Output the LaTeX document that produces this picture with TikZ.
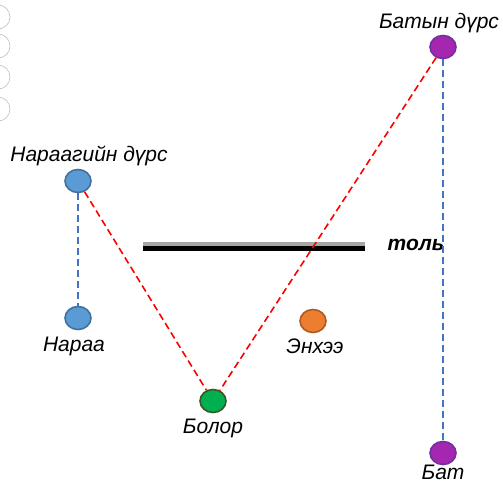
\documentclass[tikz,border=0pt]{standalone}
\usepackage{fontspec}
\setmainfont{Liberation Sans}
\usetikzlibrary{positioning,shapes.geometric}
\definecolor{pointBlue}{HTML}{5B9BD5}
\definecolor{pointBlueEdge}{HTML}{41719C}
\definecolor{pointGreen}{HTML}{00B050}
\definecolor{pointGreenEdge}{HTML}{385723}
\definecolor{pointOrange}{HTML}{ED7D31}
\definecolor{pointOrangeEdge}{HTML}{AE5A21}
\definecolor{pointPurple}{HTML}{A526AF}
\definecolor{pointPurpleEdge}{HTML}{7030A0}
\definecolor{rayBlue}{HTML}{4472C4}
\definecolor{rayRed}{HTML}{FF0000}
\definecolor{mirrorGray}{HTML}{A6A6A6}

\begin{document}
\begin{tikzpicture}[x=1pt, y=-1pt,
    dot/.style={ellipse, draw, line width=1.6pt, minimum width=26pt, minimum height=23pt, inner sep=0pt},
    ptlabel/.style={font=\fontsize{21}{24}\selectfont\itshape, inner sep=0pt},
    rayline/.style={line width=1.6pt, dash pattern=on 7pt off 4pt},
    ghost/.style={draw=black!25, line width=0.6pt}]
    \useasboundingbox (0,0) rectangle (503,483);
    \clip (0,0) rectangle (503,483);

    % faint circles at the left edge
    \foreach \y in {17,46,77,109}
        \draw[ghost] (-2,\y) circle (12);

    % Mirror
    \draw[mirrorGray, line width=4pt] (143,244) -- (365,244);
    \draw[black, line width=5pt] (143,248.5) -- (365,248.5);
    \node[ptlabel, font=\fontsize{21}{24}\selectfont\bfseries\itshape] (mirror) at (416,245) {толь};

    % Points
    \node[dot, fill=pointBlue, draw=pointBlueEdge] (naraaImg) at (78,181) {};
    \node[dot, fill=pointBlue, draw=pointBlueEdge] (naraa) at (78,318) {};
    \node[dot, fill=pointGreen, draw=pointGreenEdge] (bolor) at (213,401) {};
    \node[dot, fill=pointOrange, draw=pointOrangeEdge] (enkhee) at (313,321) {};
    \node[dot, fill=pointPurple, draw=pointPurpleEdge] (batImg) at (443,47) {};
    \node[dot, fill=pointPurple, draw=pointPurpleEdge] (bat) at (443,453) {};

    % Labels
    \node[ptlabel, above=3pt of naraaImg, xshift=11pt] (naraaImgName) {Нараагийн дүрс};
    \node[ptlabel, below=7pt of naraa, xshift=-4pt] (naraaName) {Нараа};
    \node[ptlabel, below=6pt of bolor] (bolorName) {Болор};
    \node[ptlabel, below=5pt of enkhee, xshift=2pt] (enkheeName) {Энхээ};
    \node[ptlabel, above=2pt of batImg, xshift=-4pt] (batImgName) {Батын дүрс};
    \node[ptlabel, below=0pt of bat] (batName) {Бат};

    % Rays
    \draw[rayline, rayBlue] (naraaImg) -- (naraa);
    \draw[rayline, rayBlue] (batImg) -- (bat);
    \draw[rayline, rayRed] (naraaImg) -- (bolor);
    \draw[rayline, rayRed] (batImg) -- (bolor);
\end{tikzpicture}
\end{document}
